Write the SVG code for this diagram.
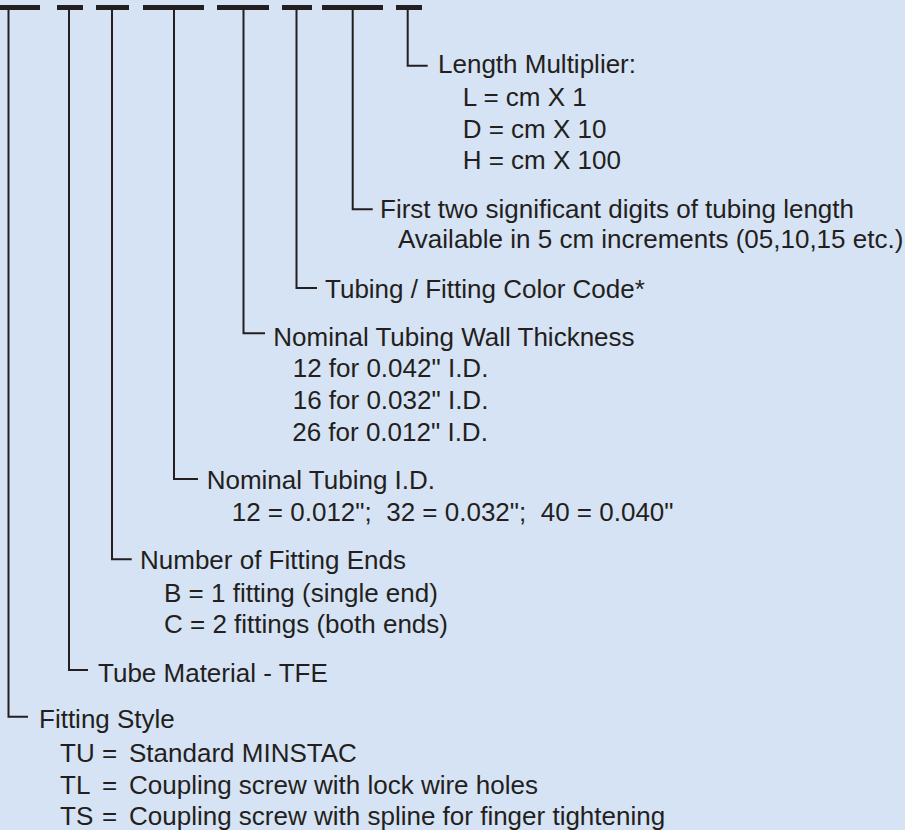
<svg xmlns="http://www.w3.org/2000/svg" width="905" height="830" viewBox="0 0 905 830">
<style>
text{font-family:"Liberation Sans",Arial,Helvetica,sans-serif;font-size:26px;fill:#231f20}
.c{fill:none;stroke:#231f20;stroke-width:2}
.d{fill:#231f20}
</style>
<rect x="0" y="0" width="905" height="830" fill="#d6e3f4"/>
<g id="code">
<rect class="d" x="0" y="5" width="40" height="5"/>
<rect class="d" x="57" y="5" width="26" height="5"/>
<rect class="d" x="96" y="5" width="33" height="5"/>
<rect class="d" x="143" y="5" width="61" height="5"/>
<rect class="d" x="217" y="5" width="52" height="5"/>
<rect class="d" x="282" y="5" width="30" height="5"/>
<rect class="d" x="322" y="5" width="61" height="5"/>
<rect class="d" x="396" y="5" width="26" height="5"/>
</g>
<g id="connectors">
<path class="c" d="M8.5 9V716.7H28"/>
<path class="c" d="M69 9V670H88"/>
<path class="c" d="M112 9V559.3H131.7"/>
<path class="c" d="M174 9V479H198"/>
<path class="c" d="M243.5 9V333.3H265"/>
<path class="c" d="M296.5 9V288H317"/>
<path class="c" d="M352.7 9V209.3H372.7"/>
<path class="c" d="M407.7 9V65.7H427.7"/>
</g>
<g id="length-multiplier">
<text x="438" y="73.3">Length Multiplier:</text>
<text x="462.7" y="106">L = cm X 1</text>
<text x="462.7" y="137.7">D = cm X 10</text>
<text x="462.7" y="169.3">H = cm X 100</text>
</g>
<g id="length-digits">
<text x="380" y="218">First two significant digits of tubing length</text>
<text x="398" y="248.3">Available in 5 cm increments (05,10,15 etc.)</text>
</g>
<g id="color-code">
<text x="325" y="298.3">Tubing / Fitting Color Code*</text>
</g>
<g id="wall-thickness">
<text x="273.3" y="345.7">Nominal Tubing Wall Thickness</text>
<text x="292.7" y="377.3">12 for 0.042" I.D.</text>
<text x="292.7" y="409.3">16 for 0.032" I.D.</text>
<text x="292.2" y="441">26 for 0.012" I.D.</text>
</g>
<g id="tubing-id">
<text x="206.7" y="489">Nominal Tubing I.D.</text>
<text x="231.7" y="521" xml:space="preserve">12 = 0.012";  32 = 0.032";  40 = 0.040"</text>
</g>
<g id="fitting-ends">
<text x="140" y="569.3">Number of Fitting Ends</text>
<text x="164" y="601.7">B = 1 fitting (single end)</text>
<text x="164" y="632.7">C = 2 fittings (both ends)</text>
</g>
<g id="tube-material">
<text x="98" y="681.7">Tube Material - TFE</text>
</g>
<g id="fitting-style">
<text x="39" y="728.3">Fitting Style</text>
<text y="762"><tspan x="60">TU</tspan><tspan x="102">=</tspan><tspan x="129">Standard MINSTAC</tspan></text>
<text y="793.5"><tspan x="60">TL</tspan><tspan x="102">=</tspan><tspan x="129">Coupling screw with lock wire holes</tspan></text>
<text y="825"><tspan x="60">TS</tspan><tspan x="102">=</tspan><tspan x="129">Coupling screw with spline for finger tightening</tspan></text>
</g>
</svg>
